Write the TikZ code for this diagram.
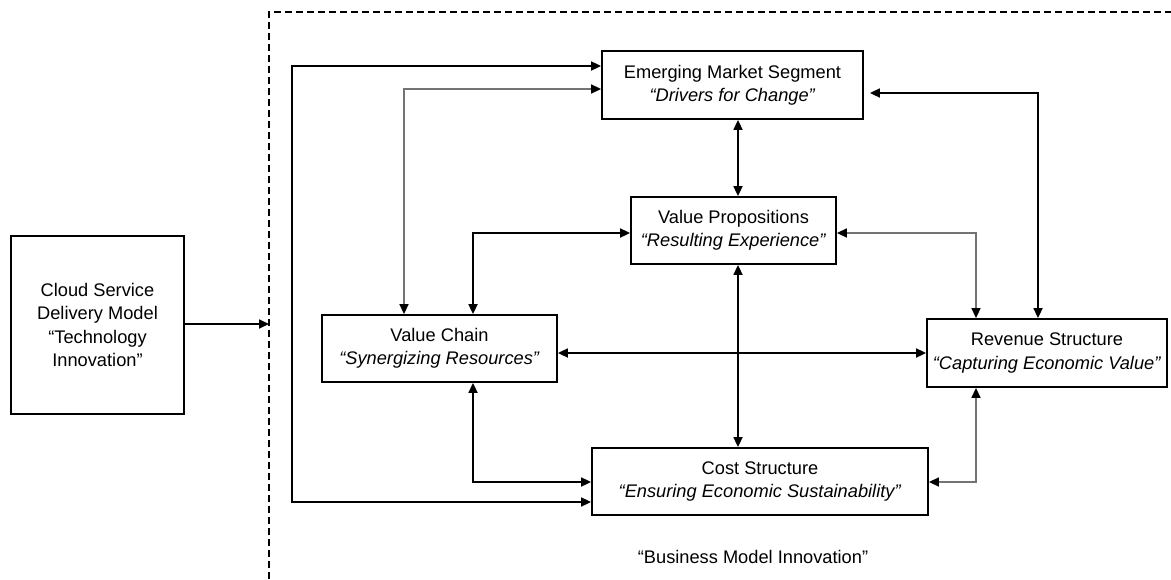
\documentclass[tikz,border=0pt]{standalone}
\usepackage{fontspec}
\setmainfont{Liberation Sans}
\usetikzlibrary{arrows.meta}
\begin{document}
\begin{tikzpicture}[x=1pt,y=-1pt,
  txt/.style={font=\fontsize{18.25}{23.3}\selectfont, align=center},
  box/.style={txt, draw, line width=1.8pt, inner sep=0pt},
  conn/.style={line width=1.7pt, {Triangle[length=10pt,width=9pt,color=black]}-{Triangle[length=10pt,width=9pt,color=black]}},
  light/.style={conn, draw=black!55, line width=1.5pt},
  single/.style={line width=1.7pt, -{Triangle[length=10pt,width=9pt]}},
  frame/.style={line width=1.3pt, dash pattern=on 7pt off 4pt}
]
\useasboundingbox (0,0) rectangle (1171,579);

% outer frame of the business model
\draw[frame] (269,579) -- (269,12) -- (1171,12);

% boxes
\node[box, minimum width=173pt, minimum height=178pt] (cloud) at (97.5,325)
  {Cloud Service\\Delivery Model\\``Technology\\Innovation''};
\node[box, minimum width=261pt, minimum height=68pt] (ems) at (732.5,85)
  {Emerging Market Segment\\\textit{``Drivers for Change''}};
\node[box, minimum width=205pt, minimum height=67pt] (vp) at (733.5,230.5)
  {Value Propositions\\\textit{``Resulting Experience''}};
\node[box, minimum width=235pt, minimum height=67pt] (vc) at (439.5,348.5)
  {Value Chain\\\textit{``Synergizing Resources''}};
\node[box, minimum width=240pt, minimum height=68pt] (rev) at (1047,353)
  {Revenue Structure\\\textit{``Capturing Economic Value''}};
\node[box, minimum width=336pt, minimum height=67pt] (cost) at (760,481.5)
  {Cost Structure\\\textit{``Ensuring Economic Sustainability''}};
\node[txt] (bmi) at (753,557) {``Business Model Innovation''};

% entry from the technology side
\coordinate (entry) at (269,324);
\draw[single] (cloud.east |- entry) -- (entry);

% connectors between the building blocks
\draw[conn] (ems.west |- 0,66) -| (292,502) -- (cost.west |- 0,502);
\draw[light] (ems.west |- 0,89) -| (vc.north -| 404,0);
\draw[conn] (ems.south -| 738,0) -- (vp.north -| 738,0);
\draw[conn] (vp.west |- 0,233) -| (vc.north -| 473,0);
\draw[light] (vp.east |- 0,233) -| (rev.north -| 976,0);
\draw[conn, shorten <=6pt] (ems.east |- 0,93) -| (rev.north -| 1038,0);
\draw[conn] (vc.east |- 0,353) -- (rev.west |- 0,353);
\draw[conn] (vp.south -| 738,0) -- (cost.north -| 738,0);
\draw[conn] (vc.south -| 473,0) |- (cost.west |- 0,482);
\draw[light] (rev.south -| 976,0) |- (cost.east |- 0,482);
\end{tikzpicture}
\end{document}
